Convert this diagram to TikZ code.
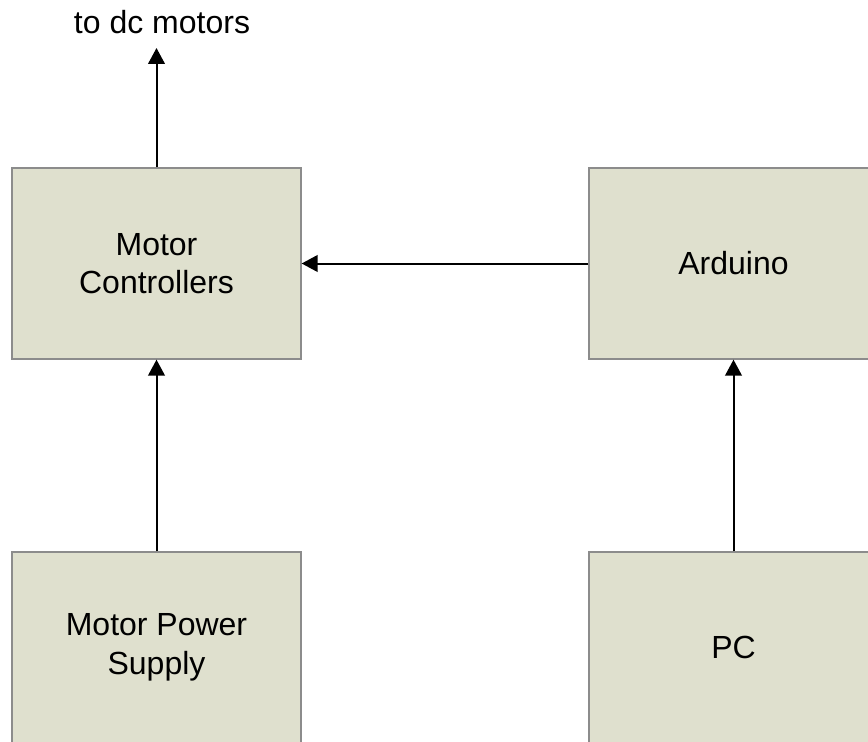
\documentclass[tikz,border=0pt]{standalone}
\usepackage{fontspec}
\setmainfont{Liberation Sans}
\usepackage{xcolor}
\usetikzlibrary{arrows.meta,positioning}
\definecolor{khaki}   {HTML}{DFE0CE}
\definecolor{rim}     {HTML}{8C8C8C}

\begin{document}
\begin{tikzpicture}[x=0.75pt, y=-0.75pt,
  block/.style={draw=rim, line width=1pt, fill=khaki, rectangle,
                minimum width=216.75pt, minimum height=143.25pt,
                align=center, inner sep=0pt},
  link/.style={line width=1.5pt, -{Triangle[length=12pt, width=12.5pt]}},
  every node/.style={font=\fontsize{24}{29}\selectfont}]
 \clip (0,0) rectangle (868,742);
 \fill[white] (0,0) rectangle (868,742);
 % boxes
 \node[block] (ctrl)  at (156.5,263.5) {Motor\\Controllers};
 \node[block] (ardu)  at (733.5,263.5) {Arduino};
 \node[block] (power) at (156.5,647.5) {Motor Power\\Supply};
 \node[block] (pc)    at (733.5,647.5) {PC};
 \node (motors) at (162,22) {to dc motors};
 \coordinate (tip) at (156.5,48);
 % connectors
 \draw[link] (ctrl.north) -- (tip);
 \draw[link] (ardu.west) -- (ctrl.east);
 \draw[link] (power.north) -- (ctrl.south);
 \draw[link] (pc.north) -- (ardu.south);
\end{tikzpicture}
\end{document}
